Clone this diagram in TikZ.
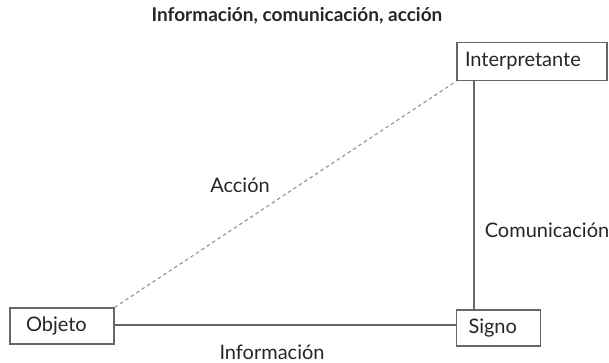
\documentclass[tikz,border=0pt]{standalone}
\usepackage{fontspec}
\setmainfont{Lato}
\begin{document}
\begin{tikzpicture}[x=1pt,y=-1pt,
  box/.style={draw=black!60, line width=1.2pt, fill=white, inner ysep=0pt, align=left, font=\fontsize{20}{24}\selectfont, text=black!85},
  lbl/.style={font=\fontsize{20}{24}\selectfont, text=black!85},
  solidline/.style={draw=black!60, line width=1.2pt},
  dashline/.style={draw=black!40, line width=1.2pt, dash pattern=on 3.5pt off 3pt}]
\useasboundingbox (0,0) rectangle (609,362);
\node[box, inner xsep=16pt, text width=72pt, minimum height=36pt] (obj) at (62,326) {Objeto};
\node[box, inner xsep=12pt, text width=60pt, minimum height=36pt] (sig) at (498.5,328) {Signo};
\node[box, inner xsep=8pt, text width=134pt, minimum height=38pt] (int) at (532,61.5) {Interpretante};
\coordinate (vtop) at (474,80);
\coordinate (vbot) at (474,310);
\draw[solidline] (obj.east |- 0,325) -- (sig.west |- 0,325);
\draw[solidline] (vtop) -- (vbot);
\draw[dashline] (obj.north east) -- (int.south west);
\node[lbl] (acc) at (240,185) {Acción};
\node[lbl] (com) at (547,230) {Comunicación};
\node[lbl] (inf) at (272,352) {Información};
\node[font=\bfseries\fontsize{19}{22}\selectfont, text=black!85] (title) at (297,16) {Información, comunicación, acción};
\end{tikzpicture}
\end{document}
